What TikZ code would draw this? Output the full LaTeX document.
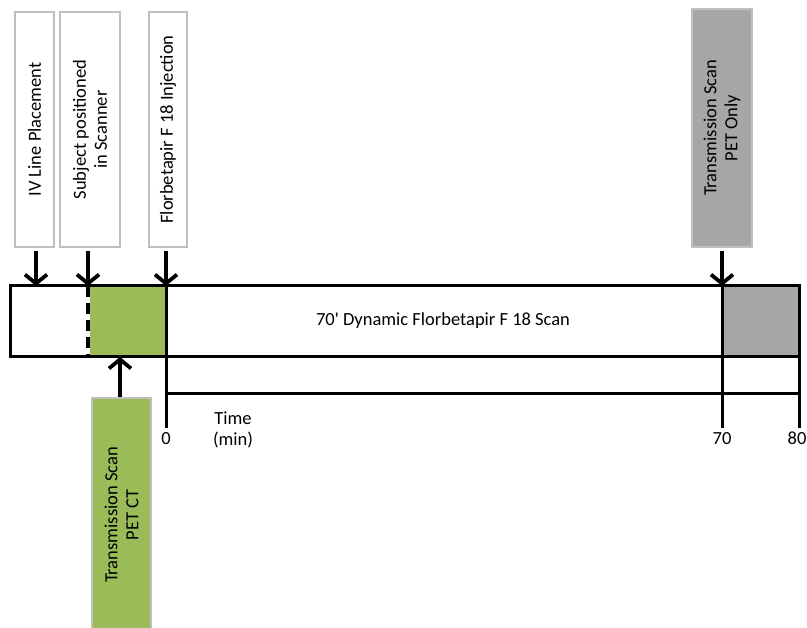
\documentclass[tikz,border=0pt]{standalone}
\usepackage{fontspec}
\setmainfont{Carlito}[Ligatures=TeXOff]
\usetikzlibrary{arrows.meta}
\definecolor{boxgray}{HTML}{BFBFBF}
\definecolor{scangreen}{HTML}{9BBB59}
\definecolor{scangray}{HTML}{A6A6A6}
\begin{document}
\begin{tikzpicture}[x=1pt,y=-1pt,
  evbox/.style={draw=boxgray, line width=1.2pt, rotate=90, align=center,
    font=\fontsize{18.5}{21}\selectfont, inner sep=0pt},
  lbl/.style={font=\fontsize{18.5}{21}\selectfont, align=center, inner sep=0pt},
  ptr/.style={line width=3.8pt, -{Straight Barb[length=9pt,width=22pt]}},
  frame/.style={line width=3pt},
]
\useasboundingbox (0,0) rectangle (807,628);

% scan phases inside the bar
\fill[scangreen] (88,286) rectangle (166,356.5);
\fill[scangray] (722,286) rectangle (799,356.5);
\draw[line width=3.2pt, white] (88,286) -- (88,356.5);
\draw[line width=3.2pt, dash pattern=on 11pt off 6pt] (88,286) -- (88,356.5);

% the bar and the time axis
\draw[frame] (10,286) rectangle (799,356.5);
\draw[frame] (166,286) -- (166,428);
\draw[frame] (722,286) -- (722,428);
\draw[frame] (799,356.5) -- (799,428);
\draw[frame] (166,394) -- (799,394);

\node[lbl] (scan) at (443,321) {70' Dynamic Florbetapir F 18 Scan};
\node[lbl, anchor=north] (t0) at (166,432) {0};
\node[lbl, anchor=north] (t70) at (722,432) {70};
\node[lbl, anchor=north] (t80) at (797,432) {80};
\node[lbl] (time) at (233,430) {Time\\(min)};

% event boxes above the bar
\node[evbox, fill=white, minimum width=235pt, minimum height=39pt] (iv) at (34.5,129.5) {IV Line Placement};
\node[evbox, fill=white, minimum width=235pt, minimum height=60pt] (subj) at (90,129.5) {Subject positioned\\in Scanner};
\node[evbox, fill=white, minimum width=235pt, minimum height=38pt] (inj) at (168,129.5) {Florbetapir F 18 Injection};
\node[evbox, fill=scangray, minimum width=238pt, minimum height=60pt] (petonly) at (722,128) {Transmission Scan\\PET Only};

% box below the bar
\node[evbox, fill=scangreen, minimum width=234pt, minimum height=59pt] (petct) at (121.5,515) {Transmission Scan\\PET CT};

% pointers
\coordinate (ivtip) at (36,286);
\coordinate (subjtip) at (88,286);
\coordinate (injtip) at (166,286);
\coordinate (pettip) at (722,286);
\coordinate (cttip) at (120,357);
\draw[ptr] (ivtip |- iv.west) ++(0,3) -- (ivtip);
\draw[ptr] (subjtip |- subj.west) ++(0,3) -- (subjtip);
\draw[ptr] (injtip |- inj.west) ++(0,3) -- (injtip);
\draw[ptr] (pettip |- petonly.west) ++(0,3) -- (pettip);
\draw[ptr] (cttip |- petct.east) -- (cttip);
\end{tikzpicture}
\end{document}
